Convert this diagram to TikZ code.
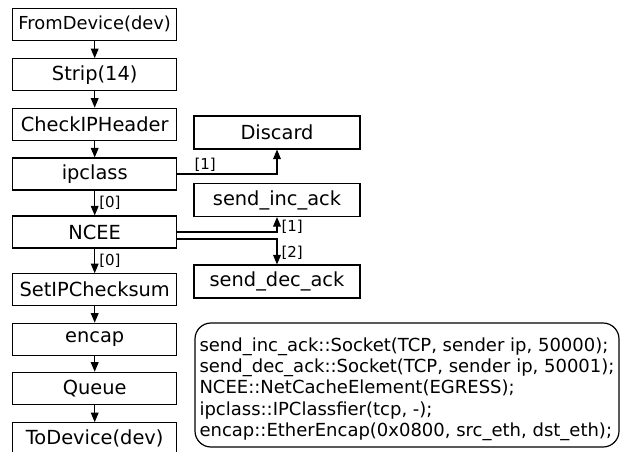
\documentclass[tikz,border=0pt]{standalone}
\usepackage{fontspec}
\setmainfont{DejaVu Sans}
\usepackage{tikz}
\usetikzlibrary{positioning}
\usetikzlibrary{shapes,arrows}
\tikzset{%
  block/.style    = {draw, rectangle, minimum height = 32pt,
    minimum width = 164pt, inner sep = 0pt,
    font = \fontsize{19.4}{23}\selectfont},
  rblock/.style   = {block, minimum width = 166pt, minimum height = 33pt}, % right column
  port/.style     = {inner xsep = 4pt, inner ysep = 2pt, font = \fontsize{15}{17}\selectfont}, % port number
  note/.style     = {draw, rounded corners = 16pt, align = left, inner sep = 0pt,
    minimum width = 424pt, minimum height = 124pt,
    font = \fontsize{18}{21.4}\selectfont}
}
\begin{document}
\begin{tikzpicture}[x=1pt, y=-1pt, auto, line width=1.2pt, >=triangle 45]
  \useasboundingbox (0,0) rectangle (620,451);

  \draw node at (94.7,24.2) [block, font=\fontsize{17.9}{22}\selectfont] (fromdev) {FromDevice(dev)};
  \draw node at (94.7,74.7) [block] (strip) {Strip(14)};
  \draw node at (94.7,124.2) [block] (checkip) {CheckIPHeader};
  \draw node at (94.7,174) [block] (ipclass) {ipclass};
  \draw node at (94.7,232) [block] (ncee) {NCEE};
  \draw node at (94.7,289.7) [block] (setcsum) {SetIPChecksum};
  \draw node at (94.7,339.2) [block] (encap) {encap};
  \draw node at (94.7,388.3) [block] (queue) {Queue};
  \draw node at (94.7,438.7) [block] (todev) {ToDevice(dev)};

  \draw node at (277,132.5) [rblock] (discard) {Discard};
  \draw node at (277,200) [rblock] (incack) {send\_inc\_ack};
  \draw node at (277,281.5) [rblock] (decack) {send\_dec\_ack};

  % element declarations
  \draw node at (407,385) [note] (conf) {\rule{0pt}{21.9pt}send\_inc\_ack::Socket(TCP, sender ip, 50000);\\
    send\_dec\_ack::Socket(TCP, sender ip, 50001);\\
    NCEE::NetCacheElement(EGRESS);\\
    ipclass::IPClassfier(tcp, -);\\
    encap::EtherEncap(0x0800, src\_eth, dst\_eth);};

  \draw[->] (fromdev) -- (strip);
  \draw[->] (strip) -- (checkip);
  \draw[->] (checkip) -- (ipclass);
  \draw[->] (ipclass) -- node[port, right] {[0]} (ncee);
  \draw[->] (ncee) -- node[port, right] {[0]} (setcsum);
  \draw[->] (setcsum) -- (encap);
  \draw[->] (encap) -- (queue);
  \draw[->] (queue) -- (todev);

  \draw[->] (ipclass) -| node[port, pos=0.14, above] {[1]} (discard);
  \draw[->] (ncee) -| node[port, pos=0.66, right] {[1]} (incack);
  \draw[->] ([yshift=-7pt]ncee.east) -| node[port, pos=0.77, right] {[2]} (decack);

\end{tikzpicture}
\end{document}
